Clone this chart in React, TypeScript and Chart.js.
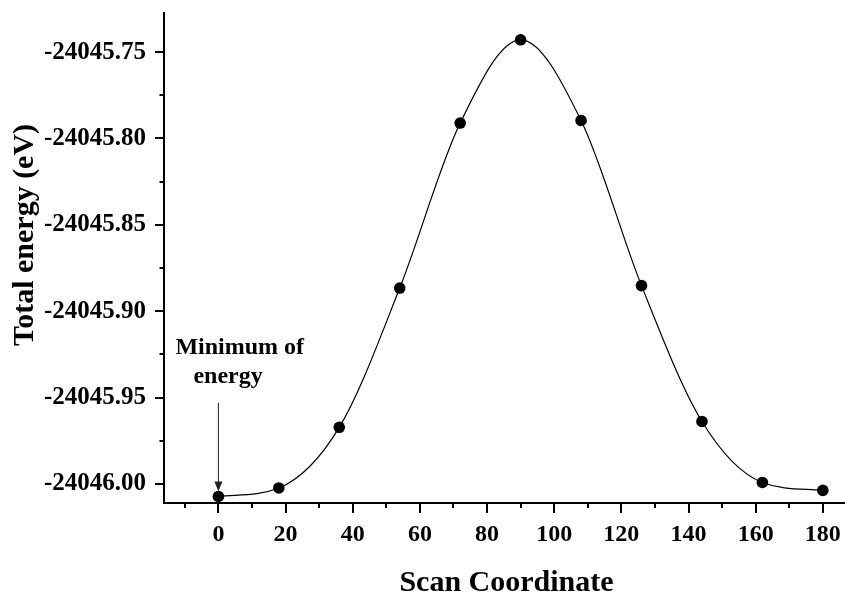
import React, { useEffect, useRef } from "react";
import { Chart, registerables } from "chart.js";

Chart.register(...registerables);

// ---- data ----
const scanCoordinate = [0, 18, 36, 54, 72, 90, 108, 126, 144, 162, 180];
const totalEnergy = [
  -24046.0072, -24046.0023, -24045.9672, -24045.8866, -24045.7911, -24045.7429,
  -24045.7896, -24045.8852, -24045.9638, -24045.9991, -24046.0037,
];
const xTickValues = [0, 20, 40, 60, 80, 100, 120, 140, 160, 180];
const xMinorTickValues = [-10, 10, 30, 50, 70, 90, 110, 130, 150, 170];
const yTickValues = [-24046.0, -24045.95, -24045.9, -24045.85, -24045.8, -24045.75];
const yMinorTickValues = [-24045.975, -24045.925, -24045.875, -24045.825, -24045.775];
const xTitle = "Scan Coordinate";
const yTitle = "Total energy (eV)";
const annotationLines = ["Minimum of", "energy"];
const arrowX = 0;
const arrowStartY = -24045.953;

const FONT = '"Liberation Serif", "Times New Roman", Times, serif';

const overlayPlugin = {
  id: "overlay",
  afterDraw(chart: any) {
    const { ctx, chartArea } = chart;
    const x = chart.scales.x;
    const y = chart.scales.y;
    ctx.save();
    ctx.strokeStyle = "#000";
    ctx.lineWidth = 2;
    ctx.lineCap = "butt";
    const line = (x1: number, y1: number, x2: number, y2: number) => {
      ctx.beginPath();
      ctx.moveTo(x1, y1);
      ctx.lineTo(x2, y2);
      ctx.stroke();
    };
    const left = chartArea.left;
    const bottom = chartArea.bottom;
    yTickValues.forEach((v) => {
      const py = Math.round(y.getPixelForValue(v));
      line(left - 9, py, left, py);
    });
    yMinorTickValues.forEach((v) => {
      const py = Math.round(y.getPixelForValue(v));
      line(left - 4.5, py, left, py);
    });
    xTickValues.forEach((v) => {
      const px = Math.round(x.getPixelForValue(v));
      line(px, bottom, px, bottom + 10);
    });
    xMinorTickValues.forEach((v) => {
      const px = Math.round(x.getPixelForValue(v));
      line(px, bottom, px, bottom + 5);
    });

    // axis titles
    ctx.fillStyle = "#000";
    ctx.font = `bold 30px ${FONT}`;
    ctx.textAlign = "center";
    ctx.textBaseline = "alphabetic";
    ctx.fillText(xTitle, (chartArea.left + chartArea.right) / 2 + 2, 591);
    ctx.save();
    ctx.translate(33, 235);
    ctx.rotate(-Math.PI / 2);
    ctx.fillText(yTitle, 0, 0);
    ctx.restore();

    // annotation
    const ax = x.getPixelForValue(arrowX);
    const ay0 = y.getPixelForValue(arrowStartY);
    const minY = y.getPixelForValue(totalEnergy[0]);
    const tipY = minY - 5;
    ctx.strokeStyle = "#222";
    ctx.fillStyle = "#222";
    ctx.lineWidth = 1;
    line(ax, ay0, ax, tipY - 8);
    ctx.beginPath();
    ctx.moveTo(ax - 4, tipY - 10);
    ctx.lineTo(ax + 4, tipY - 10);
    ctx.lineTo(ax, tipY);
    ctx.closePath();
    ctx.fill();

    ctx.fillStyle = "#000";
    ctx.font = `bold 24px ${FONT}`;
    ctx.textAlign = "left";
    ctx.fillText(annotationLines[0], ax - 43, ay0 - 49);
    ctx.fillText(annotationLines[1], ax - 25, ay0 - 20);
    ctx.restore();
  },
};

export default function App() {
  const canvasRef = useRef<HTMLCanvasElement | null>(null);

  useEffect(() => {
    document.body.style.margin = "0";
    const canvas = canvasRef.current;
    if (!canvas) return;
    const points = scanCoordinate.map((v, i) => ({ x: v, y: totalEnergy[i] }));
    const chart = new Chart(canvas, {
      type: "scatter",
      data: {
        datasets: [
          {
            data: points,
            showLine: true,
            borderColor: "#000",
            borderWidth: 1.2,
            backgroundColor: "#000",
            pointBackgroundColor: "#000",
            pointBorderColor: "#000",
            pointRadius: 5.8,
            pointBorderWidth: 0,
            cubicInterpolationMode: "monotone",
            clip: false,
          },
        ],
      },
      options: {
        animation: false,
        responsive: false,
        devicePixelRatio: 1,
        layout: { autoPadding: false, padding: { top: 13, right: 0, left: 0, bottom: 0 } },
        plugins: { legend: { display: false }, tooltip: { enabled: false } },
        scales: {
          x: {
            type: "linear",
            min: -16.2,
            max: 186.6,
            grid: { display: false, drawTicks: false },
            border: { display: true, color: "#000", width: 2 },
            afterBuildTicks: (scale: any) => {
              scale.ticks = xTickValues.map((v) => ({ value: v }));
            },
            afterFit: (scale: any) => {
              scale.height = 90;
              scale.paddingLeft = 0;
              scale.paddingRight = 0;
              scale.paddingTop = 0;
              scale.paddingBottom = 0;
            },
            ticks: {
              autoSkip: false,
              maxRotation: 0,
              padding: 17,
              color: "#000",
              font: { family: FONT, size: 24, weight: "bold" },
              callback: (v: any) => String(v),
            },
          },
          y: {
            type: "linear",
            min: -24046.011,
            max: -24045.7274,
            grid: { display: false, drawTicks: false },
            border: { display: true, color: "#000", width: 2 },
            afterBuildTicks: (scale: any) => {
              scale.ticks = yTickValues.map((v) => ({ value: v }));
            },
            afterFit: (scale: any) => {
              scale.width = 164;
              scale.paddingLeft = 0;
              scale.paddingRight = 0;
              scale.paddingTop = 0;
              scale.paddingBottom = 0;
            },
            ticks: {
              autoSkip: false,
              padding: 18,
              color: "#000",
              font: { family: FONT, size: 25, weight: "bold" },
              callback: (v: any) => Number(v).toFixed(2),
            },
          },
        },
      },
      plugins: [overlayPlugin],
    });
    return () => chart.destroy();
  }, []);

  return (
    <div style={{ position: "absolute", left: 0, top: 0, width: 845, height: 593 }}>
      <canvas ref={canvasRef} width={845} height={593} style={{ width: 845, height: 593 }} />
    </div>
  );
}
